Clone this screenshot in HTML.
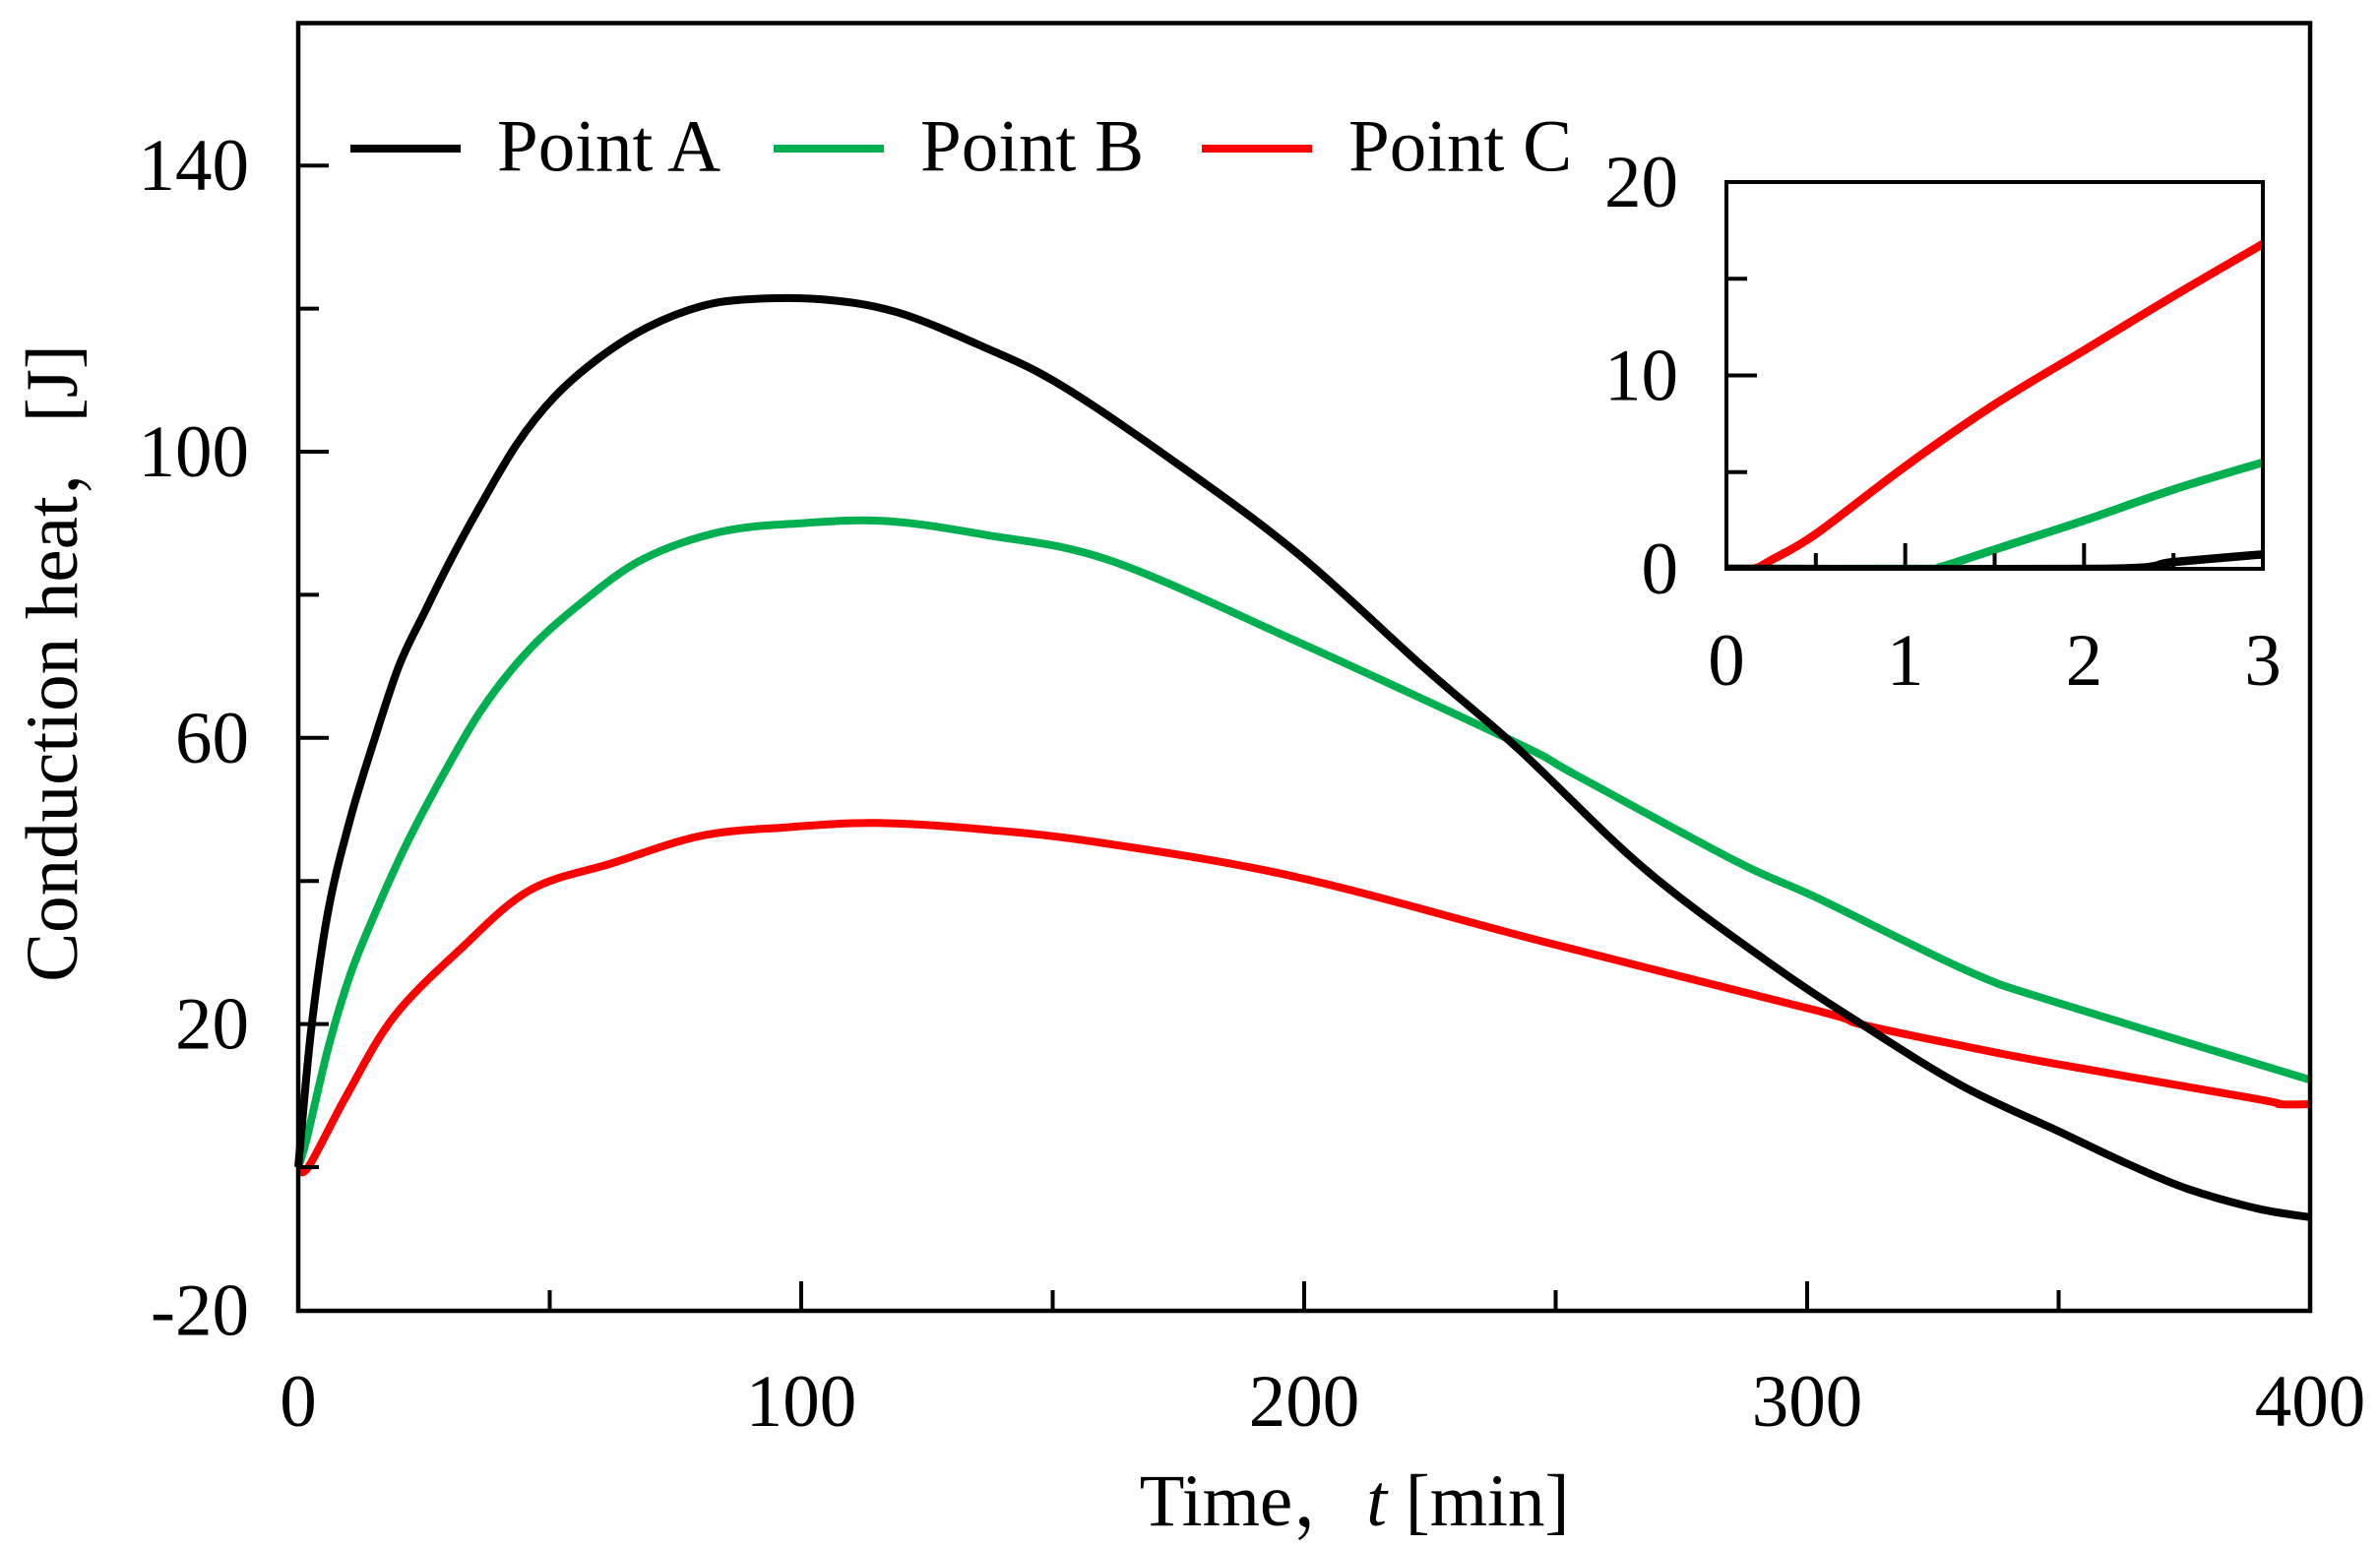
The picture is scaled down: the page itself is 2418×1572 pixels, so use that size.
<!DOCTYPE html>
<html><head><meta charset="utf-8"><style>
html,body{margin:0;padding:0;background:#fff;}
svg{display:block;}
text{font-family:"Liberation Serif","Noto Serif CJK SC",serif;fill:#000;}
</style></head><body>
<svg id="chart" xmlns="http://www.w3.org/2000/svg" width="2418" height="1572" viewBox="0 0 2418 1572">
<rect x="0" y="0" width="2418" height="1572" fill="#fff"/>
<g id="main-series"></g>
<g id="inset"></g>
<rect x="303" y="23.5" width="2044" height="1308.5" fill="none" stroke="#000" stroke-width="4.5"/>
<g id="main-axes"></g>
<g id="legend"></g>
<text transform="translate(78,674) rotate(-90)" text-anchor="middle" font-size="75">Conduction heat，[J]</text>
<text transform="translate(1376,1550)" text-anchor="middle" font-size="75">Time，<tspan font-style="italic">t</tspan> [min]</text>
</svg>
<script>
// ---- main chart data ----
const timeA = [0,2.6,6,10.4,14.8,20,25,30.4,35.6,43.4,51,60,69.5,80,89.5,104,119,136.4,151.4,173.8,198.8,223.7,242.5,267.5,292.4,311,330.7,349.7,363.6,375.5,389.6,400];
const heatA = [0,19.4,36,48.8,59,70,77.4,85,91.7,101,107.7,113.2,117.4,120.3,121.3,121.3,119.5,114.6,109.4,98.8,85.7,69.9,58.5,41.8,28.6,19.9,11.4,5.1,0.5,-3,-5.8,-7];
const timeB = [0,1.7,6,10.4,15.6,21.7,28.7,36.5,46,56.5,68.6,84,100,117,136.4,161.4,198.8,242.5,253.8,286,301.8,332,349.7,400];
const heatB = [0,4,16.8,27,36,45.4,54.7,64,72.4,79,85,88.8,90,90.3,88.4,84.8,73.4,59.2,54.9,42.7,37.7,27.4,23,12.2];
const timeC = [0,2,9.6,19,32,46,62.5,80,97,115,136.4,160,198.8,248.7,301.8,311,332,349.7,389.6,394,400];
const heatC = [0,0,10,21,30.3,38.7,42.5,46.3,47.5,48.1,47.2,45.3,40.5,31.3,21.9,19.9,16.8,14.4,9.5,8.8,8.8];
const xTickLabels = [0,100,200,300,400];
const yTickLabels = [140,100,60,20,-20];
const seriesNames = ["Point A","Point B","Point C"];
// ---- inset data ----
const insetTimeA = [0,2.1,2.5,3];
const insetHeatA = [0,0,0.35,0.75];
const insetTimeB = [0,1.1,1.2,1.5,2,2.5,3];
const insetHeatB = [0,0,0.1,1,2.5,4.1,5.5];
const insetTimeC = [0,0.15,0.25,0.5,1,1.5,2,2.5,3];
const insetHeatC = [0,0,0.45,1.8,5.3,8.5,11.3,14.1,16.8];
const insetXTickLabels = [0,1,2,3];
const insetYTickLabels = [20,10,0];

const NS = "http://www.w3.org/2000/svg";
const colors = ["#000000","#00B050","#FF0000"];
function xMain(t){ return 303 + (t/400)*2044; }
function yMain(v){ return 1186 - v*7.27; }
function xIn(t){ return 1754 + (t/3)*545; }
function yIn(v){ return 578 - v*19.65; }
function mk(tag, attrs, parent){
  const el = document.createElementNS(NS, tag);
  for (const k in attrs) el.setAttribute(k, attrs[k]);
  parent.appendChild(el); return el;
}
function smoothPath(xs, ys, fx, fy){
  const P = xs.map((x,i)=>[fx(x), fy(ys[i])]);
  let d = "M" + P[0][0].toFixed(1) + "," + P[0][1].toFixed(1);
  for (let i=0;i<P.length-1;i++){
    const p0 = P[Math.max(0,i-1)], p1 = P[i], p2 = P[i+1], p3 = P[Math.min(P.length-1,i+2)];
    const c1x = p1[0] + (p2[0]-p0[0])/6, c1y = p1[1] + (p2[1]-p0[1])/6;
    const c2x = p2[0] - (p3[0]-p1[0])/6, c2y = p2[1] - (p3[1]-p1[1])/6;
    d += " C" + c1x.toFixed(1)+","+c1y.toFixed(1)+" "+c2x.toFixed(1)+","+c2y.toFixed(1)+" "+p2[0].toFixed(1)+","+p2[1].toFixed(1);
  }
  return d;
}

const ms = document.getElementById("main-series");
const mainSets = [[timeC,heatC,2],[timeB,heatB,1],[timeA,heatA,0]];
mainSets.forEach(s=>{
  const p = mk("path",{d:smoothPath(s[0],s[1],xMain,yMain),fill:"none",stroke:colors[s[2]],"stroke-width":8,"stroke-linejoin":"round"},ms);
  
  
});

const ax = document.getElementById("main-axes");
for (let t=50; t<400; t+=50){
  const major = t%100===0; const x = xMain(t);
  const tk = mk("line",{x1:x,x2:x,y1:1332,y2:1332-(major?30:21),stroke:"#000","stroke-width":4},ax);
  
  
}
for (let v=0; v<=140; v+=20){
  const major = (v%40)===20; const y = yMain(v);
  const tk = mk("line",{x1:303,x2:303+(major?31:21),y1:y,y2:y,stroke:"#000","stroke-width":4},ax);
  
  
}
xTickLabels.forEach(v=>{
  const t = mk("text",{x:xMain(v),y:1449,"text-anchor":"middle","font-size":75},ax);
  t.textContent = v;
  
  
});
yTickLabels.forEach(v=>{
  const t = mk("text",{x:253,y:yMain(v)+25,"text-anchor":"end","font-size":75},ax);
  t.textContent = v;
  
  
});

// legend
const lg = document.getElementById("legend");
const legX = [356,786,1221];
seriesNames.forEach((n,i)=>{
  const ln = mk("line",{x1:legX[i],x2:legX[i]+112,y1:151,y2:151,stroke:colors[i],"stroke-width":8},lg);
  
  
  const t = mk("text",{x:legX[i]+149,y:173.5,"font-size":75},lg);
  t.textContent = n;
  
  
});

// inset
const ins = document.getElementById("inset");
mk("rect",{x:1754,y:185,width:545,height:393,fill:"#fff"},ins);
const defs = mk("defs",{},ins);
const cp = mk("clipPath",{id:"inclip"},defs);
mk("rect",{x:1754,y:185,width:545,height:393},cp);
const ig = mk("g",{"clip-path":"url(#inclip)"},ins);
[[insetTimeC,insetHeatC,2],[insetTimeB,insetHeatB,1],[insetTimeA,insetHeatA,0]].forEach(s=>{
  const p = mk("path",{d:smoothPath(s[0],s[1],xIn,yIn),fill:"none",stroke:colors[s[2]],"stroke-width":8.5,"stroke-linejoin":"round"},ig);
  
  
});
mk("rect",{x:1754,y:185,width:545,height:393,fill:"none",stroke:"#000","stroke-width":4},ins);
for (let t=0.5; t<3; t+=0.5){
  const major = Math.abs(t-Math.round(t))<1e-6; const x = xIn(t);
  const tk = mk("line",{x1:x,x2:x,y1:578,y2:578-(major?26:16),stroke:"#000","stroke-width":4},ins);
  
  
}
for (let v=5; v<20; v+=5){
  const major = v%10===0; const y = yIn(v);
  const tk = mk("line",{x1:1754,x2:1754+(major?31:21),y1:y,y2:y,stroke:"#000","stroke-width":4},ins);
  
  
}
insetXTickLabels.forEach(v=>{
  const t = mk("text",{x:xIn(v),y:696,"text-anchor":"middle","font-size":75},ins);
  t.textContent = v;
  
  
});
insetYTickLabels.forEach(v=>{
  const t = mk("text",{x:1705,y:yIn(v)+25,"text-anchor":"end","font-size":75},ins);
  t.textContent = v;
  
  
});
</script>
</body></html>
